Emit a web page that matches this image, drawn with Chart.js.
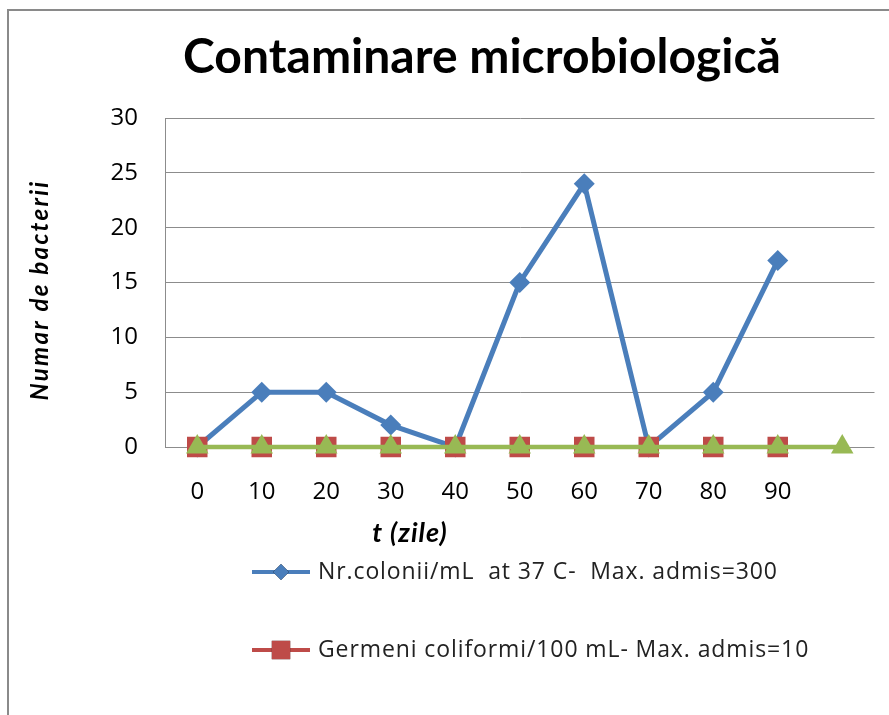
<!DOCTYPE html>
<html>
<head>
<meta charset="utf-8">
<script src="https://cdn.jsdelivr.net/npm/chart.js@4.4.1/dist/chart.umd.min.js"></script>
<style>
  body { margin: 0; background: #fff; }
</style>
</head>
<body>
<canvas id="chart" width="889" height="715"></canvas>
<script>
// date
const zile = ['0', '10', '20', '30', '40', '50', '60', '70', '80', '90', ''];
const colonii = [0, 5, 5, 2, 0, 15, 24, 0, 5, 17];
const coliformi = [0, 0, 0, 0, 0, 0, 0, 0, 0, 0];
const serie3 = [0, 0, 0, 0, 0, 0, 0, 0, 0, 0, 0];

const FONT = "'Open Sans', Lato, sans-serif";
const TITLE_FONT = "Lato, 'Open Sans', sans-serif";

// frame, titles and the stacked legend drawn on the canvas
const decor = {
  id: 'decor',
  beforeDraw(chart) {
    const ctx = chart.ctx;
    ctx.save();
    ctx.fillStyle = '#fff';
    ctx.fillRect(0, 0, chart.width, chart.height);
    ctx.strokeStyle = '#8a8a8a';
    ctx.lineWidth = 2;
    ctx.beginPath();
    ctx.moveTo(8, chart.height);
    ctx.lineTo(8, 10);
    ctx.lineTo(chart.width, 10);
    ctx.stroke();
    ctx.restore();
  },
  afterDraw(chart) {
    const ctx = chart.ctx;
    ctx.save();
    ctx.fillStyle = '#000';
    ctx.textAlign = 'center';
    ctx.textBaseline = 'middle';
    ctx.font = 'bold 48px ' + TITLE_FONT;
    ctx.fillText('Contaminare microbiologică', 482, 58);

    ctx.font = 'italic bold 27px ' + TITLE_FONT;
    ctx.letterSpacing = '1px';
    ctx.fillText('t (zile)', 410, 533);

    ctx.save();
    ctx.translate(40, 290);
    ctx.rotate(-Math.PI / 2);
    ctx.font = 'italic bold 24px ' + TITLE_FONT;
    ctx.letterSpacing = '2.3px';
    ctx.fillText('Numar de bacterii', 0, 0);
    ctx.restore();

    // legend
    ctx.textAlign = 'left';
    ctx.font = '23px ' + FONT;
    ctx.letterSpacing = '0.9px';
    chart.data.datasets.forEach((ds, i) => {
      const y = 572 + i * 78;
      ctx.strokeStyle = ds.borderColor;
      ctx.lineWidth = 4;
      ctx.beginPath();
      ctx.moveTo(252, y);
      ctx.lineTo(310, y);
      ctx.stroke();
      Chart.helpers.drawPoint(ctx, {
        pointStyle: ds.pointStyle,
        radius: ds.legendRadius,
        borderWidth: 0
      }, 281, y);
      ctx.fillStyle = ds.pointBackgroundColor;
      ctx.fill();
      ctx.fillStyle = '#222';
      ctx.fillText(ds.label, 318, y);
    });
    ctx.restore();
  }
};

new Chart(document.getElementById('chart'), {
  type: 'line',
  data: {
    labels: zile,
    datasets: [
      {
        label: 'Nr.colonii/mL  at 37 C-  Max. admis=300',
        data: colonii,
        borderColor: '#4a7ebb',
        borderWidth: 5,
        pointStyle: 'rectRot',
        pointRadius: 10.5,
        legendRadius: 8,
        pointBackgroundColor: '#4a7ebb',
        pointBorderWidth: 0,
        tension: 0,
        clip: false,
        order: 3
      },
      {
        label: 'Germeni coliformi/100 mL- Max. admis=10',
        data: coliformi,
        borderColor: '#be4b48',
        borderWidth: 4,
        pointStyle: 'rect',
        pointRadius: 14.5,
        legendRadius: 13,
        pointBackgroundColor: '#be4b48',
        pointBorderWidth: 0,
        tension: 0,
        clip: false,
        order: 2
      },
      {
        label: 'Seria3',
        data: serie3,
        borderColor: '#98b954',
        borderWidth: 4.5,
        pointStyle: 'triangle',
        pointRadius: 13,
        legendRadius: 11,
        pointBackgroundColor: '#98b954',
        pointBorderWidth: 0,
        tension: 0,
        clip: false,
        order: 1
      }
    ]
  },
  options: {
    responsive: false,
    animation: false,
    layout: { padding: { left: 20, right: 12, top: 118, bottom: 0 } },
    plugins: {
      legend: { display: false },
      title: { display: false },
      tooltip: { enabled: false }
    },
    scales: {
      x: {
        offset: true,
        grid: { display: false, drawTicks: false },
        border: { display: false },
        ticks: { color: '#000', font: { family: FONT, size: 24 }, padding: 31, maxRotation: 0, autoSkip: false },
        afterFit(scale) { scale.height = 268; }
      },
      y: {
        min: 0,
        max: 30,
        ticks: { stepSize: 5, color: '#000', font: { family: FONT, size: 24 }, padding: 27 },
        grid: { color: '#8c8c8c', lineWidth: 1, drawTicks: false },
        border: { display: true, color: '#8c8c8c', width: 1 },
        afterFit(scale) { scale.width = 145; }
      }
    }
  },
  plugins: [decor]
});
</script>
</body>
</html>
